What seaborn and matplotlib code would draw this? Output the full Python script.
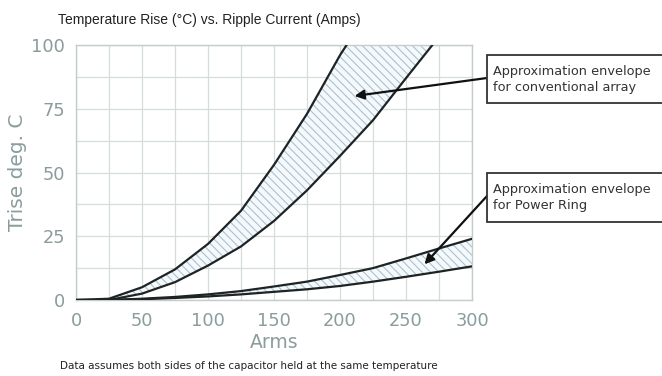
import numpy as np
import pandas as pd
import matplotlib
matplotlib.use("Agg")
import matplotlib.pyplot as plt
import seaborn as sns
from matplotlib.patches import Rectangle

# ---- data ----
conv_upper_x = [0, 25, 50, 75, 100, 125, 150, 175, 200, 205]
conv_upper_y = [0, 0.5, 5, 12, 22, 35, 53, 73, 96, 100]
conv_lower_x = [0, 25, 50, 75, 100, 125, 150, 175, 200, 225, 250, 270]
conv_lower_y = [0, 0, 2.5, 7, 13.5, 21, 31, 43, 56.5, 70.5, 87, 100]
ring_x = [0, 25, 50, 75, 100, 125, 150, 175, 200, 225, 250, 275, 300]
ring_upper_y = [0, 0, 0.5, 1.2, 2.2, 3.5, 5.3, 7.2, 9.8, 12.5, 16.3, 20.2, 24]
ring_lower_y = [0, 0, 0.3, 0.8, 1.4, 2.2, 3.2, 4.2, 5.5, 7.2, 9.1, 11.1, 13.2]

x_ticks = [0, 50, 100, 150, 200, 250, 300]
y_ticks = [0, 25, 50, 75, 100]

title = "Temperature Rise (°C) vs. Ripple Current (Amps)"
x_label = "Arms"
y_label = "Trise deg. C"
note = "Data assumes both sides of the capacitor held at the same temperature"
box1 = "Approximation envelope\nfor conventional array"
box2 = "Approximation envelope\nfor Power Ring"

sns.set_theme(style="white")
plt.rcParams["font.family"] = ["DejaVu Sans"]

W, H = 662, 376
fig = plt.figure(figsize=(W / 100, H / 100), dpi=100)
ax = fig.add_axes([76 / W, 1 - 300 / H, 396 / W, 255 / H])

tick_col = "#8a9c9c"
grid_col = "#d4dcdc"
hatch_col = "#a9c3d3"

# fills (hatched envelopes)
plt.rcParams["hatch.color"] = hatch_col
plt.rcParams["hatch.linewidth"] = 0.8
xf = np.linspace(0, 270, 400)
ax.fill_between(xf, np.interp(xf, conv_lower_x, conv_lower_y),
                np.interp(xf, conv_upper_x, conv_upper_y),
                facecolor="#f5f9fb", edgecolor=hatch_col, hatch="\\\\\\\\", linewidth=0, zorder=1)
ax.fill_between(ring_x, ring_lower_y, ring_upper_y,
                facecolor="#f5f9fb", edgecolor=hatch_col, hatch="\\\\\\\\", linewidth=0, zorder=1)

# curves
for xs, ys in [(conv_upper_x, conv_upper_y), (conv_lower_x, conv_lower_y),
               (ring_x, ring_upper_y), (ring_x, ring_lower_y)]:
    df = pd.DataFrame({"x": xs, "y": ys})
    sns.lineplot(data=df, x="x", y="y", ax=ax, color="#1e2424", linewidth=1.6,
                 sort=False, zorder=3)

ax.set_xlim(0, 300)
ax.set_ylim(0, 100)
ax.set_xticks(x_ticks)
ax.set_yticks(y_ticks)
ax.set_xticks(np.arange(25, 300, 50), minor=True)
ax.set_yticks(np.arange(12.5, 100, 25), minor=True)
ax.grid(True, which="both", color=grid_col, linewidth=0.9, zorder=0)
ax.set_axisbelow(True)
for s in ax.spines.values():
    s.set_color("#c4cccc")
    s.set_linewidth(1.0)
ax.tick_params(axis="both", which="both", colors="#c4cccc", labelcolor=tick_col,
               labelsize=12.8, length=4, direction="out")
ax.tick_params(axis="x", which="both", length=0, pad=9)
ax.tick_params(axis="y", which="major", pad=4)

ax.set_xlabel(x_label, color=tick_col, fontsize=13.5, labelpad=0)
ax.set_ylabel(y_label, color=tick_col, fontsize=14.5)
ax.yaxis.set_label_coords((18 - 76) / 396, 0.5)
ax.xaxis.set_label_coords(0.5, -(342 - 300) / 255)
ax.xaxis.label.set_va("center")
ax.yaxis.label.set_va("center")

fig.text(58 / W, 1 - 20 / H, title, fontsize=10, color="#222222", va="center", ha="left",
         family=["Liberation Sans", "DejaVu Sans"])
fig.text(60 / W, 1 - 366 / H, note, fontsize=7.5, color="#222222", va="center", ha="left")

# annotation boxes
for (top, bot, txt) in [(55, 103, box1), (173, 222, box2)]:
    fig.patches.append(Rectangle((487 / W, 1 - bot / H), 200 / W, (bot - top) / H,
                                 transform=fig.transFigure, facecolor="white",
                                 edgecolor="#333333", linewidth=1.3, zorder=5))
    fig.text(493 / W, 1 - (top + bot) / 2 / H, txt, fontsize=9.3, color="#333333",
             va="center", ha="left", linespacing=1.3, zorder=6)

arrow = dict(arrowstyle="-|>", color="#111111", lw=1.6, mutation_scale=14, shrinkA=0, shrinkB=0)
ax.annotate("", xy=(211, 80), xycoords="data", xytext=(487 / W, 1 - 78 / H),
            textcoords="figure fraction", arrowprops=arrow, annotation_clip=False)
ax.annotate("", xy=(264, 14), xycoords="data", xytext=(487 / W, 1 - 196 / H),
            textcoords="figure fraction", arrowprops=arrow, annotation_clip=False)

fig.savefig("out.png", dpi=100)
